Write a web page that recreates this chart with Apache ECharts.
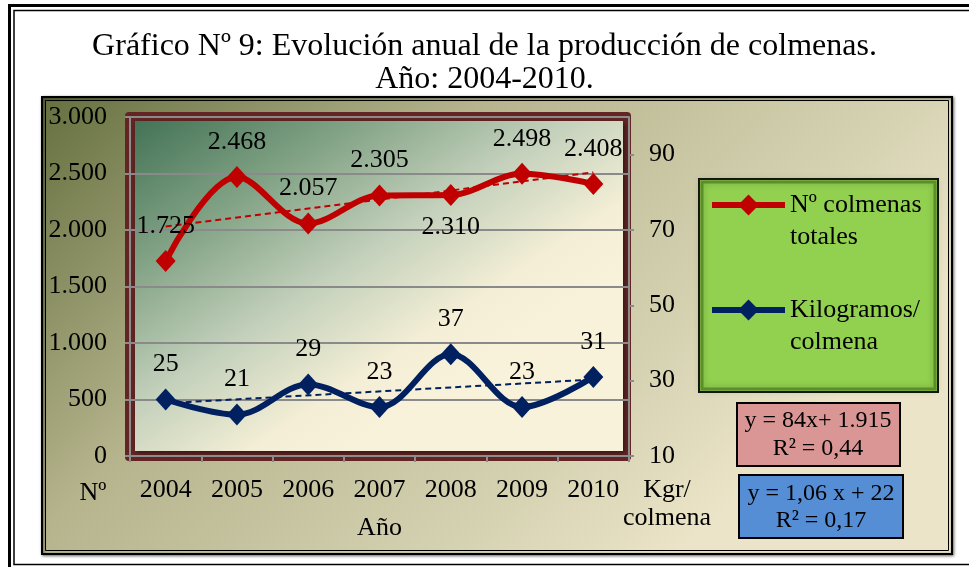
<!DOCTYPE html>
<html>
<head>
<meta charset="utf-8">
<script src="https://cdn.jsdelivr.net/npm/echarts@6/dist/echarts.min.js"></script>
<style>
  html, body { margin: 0; padding: 0; background: #fff; }
  #chart { width: 969px; height: 567px; }
</style>
</head>
<body>
<div id="chart"></div>
<script>
const years = ['2004', '2005', '2006', '2007', '2008', '2009', '2010']
const colmenas = [1725, 2468, 2057, 2305, 2310, 2498, 2408]
const kgColmena = [25, 21, 29, 23, 37, 23, 31]
// trend lines (start and end only)
const colmenasTrend = [2030, null, null, null, null, null, 2510]
const kgTrend = [24, null, null, null, null, null, 30.3]
const leftTicks = { min: 0, max: 3000, interval: 500 }
const rightTicks = { min: 10, max: 100, interval: 20 }

const FONT = 'Liberation Serif'
const RED = '#c00000'
const BLUE = '#002060'

const fmt = v => String(v).replace(/\B(?=(\d{3})+(?!\d))/g, '.')

const chart = echarts.init(document.getElementById('chart'))

const labelStyle = {
  show: true,
  position: 'top',
  distance: 11,
  color: '#000',
  fontFamily: FONT,
  fontSize: 26
}

const titleText = { fontFamily: FONT, fontSize: 32, fontWeight: 'normal', color: '#000' }

// leading blank line keeps the legend icon level with the first text line
const legendNames = {
  'Nº colmenas totales': ' \nNº colmenas\ntotales',
  'Kilogramos/ colmena': ' \nKilogramos/\ncolmena'
}

const option = {
  backgroundColor: '#fff',
  animation: false,
  title: [
    { text: 'Gráfico Nº 9: Evolución anual de la producción de colmenas.', left: 'center', top: 31, padding: 0, textStyle: titleText },
    { text: 'Año: 2004-2010.', left: 'center', top: 64, padding: 0, textStyle: titleText }
  ],
  legend: {
    data: ['Nº colmenas totales', 'Kilogramos/ colmena'],
    orient: 'vertical',
    left: 709,
    top: 157,
    padding: 0,
    itemGap: 9,
    itemWidth: 73,
    itemHeight: 26,
    lineStyle: { width: 6 },
    formatter: name => legendNames[name],
    textStyle: { fontFamily: FONT, fontSize: 26, color: '#000', lineHeight: 32 }
  },
  grid: { left: 130, right: 340, top: 117, bottom: 111 },
  xAxis: {
    type: 'category',
    data: years,
    boundaryGap: true,
    name: 'Año',
    nameLocation: 'middle',
    nameGap: 59,
    nameMoveOverlap: false,
    nameTextStyle: { fontFamily: FONT, fontSize: 26, color: '#000' },
    axisLine: { lineStyle: { color: '#8c8c8c', width: 2 } },
    axisTick: { show: true, length: 6, lineStyle: { color: '#8c8c8c', width: 2 } },
    axisLabel: { fontFamily: FONT, fontSize: 26, color: '#000', margin: 21 }
  },
  yAxis: [
    {
      type: 'value',
      min: leftTicks.min,
      max: leftTicks.max,
      interval: leftTicks.interval,
      name: 'Nº',
      nameLocation: 'start',
      nameGap: 24,
      nameMoveOverlap: false,
      nameTextStyle: { fontFamily: FONT, fontSize: 26, color: '#000', padding: [0, 74, 0, 0] },
      axisLine: { show: true, lineStyle: { color: '#8c8c8c', width: 2 } },
      axisTick: { show: true, length: 5, lineStyle: { color: '#8c8c8c', width: 2 } },
      axisLabel: { fontFamily: FONT, fontSize: 26, color: '#000', margin: 23, formatter: fmt },
      splitLine: { show: true, lineStyle: { color: '#8a8a8a', width: 2 } }
    },
    {
      type: 'value',
      position: 'right',
      min: rightTicks.min,
      max: rightTicks.max,
      interval: rightTicks.interval,
      name: 'Kgr/\ncolmena',
      nameLocation: 'start',
      nameGap: 20,
      nameMoveOverlap: false,
      nameTextStyle: { fontFamily: FONT, fontSize: 26, color: '#000', lineHeight: 28, padding: [0, 0, 0, 76] },
      axisLine: { show: true, lineStyle: { color: '#8c8c8c', width: 2 } },
      axisTick: { show: true, length: 5, lineStyle: { color: '#8c8c8c', width: 2 } },
      axisLabel: { fontFamily: FONT, fontSize: 26, color: '#000', margin: 20, showMaxLabel: false },
      splitLine: { show: false }
    }
  ],
  series: [
    {
      name: 'Nº colmenas totales',
      type: 'line',
      yAxisIndex: 0,
      data: colmenas.map((v, i) => i === 4
        ? { value: v, label: { position: 'bottom', distance: 8 } }
        : v),
      smooth: 0.35,
      symbol: 'diamond',
      symbolSize: [20, 22],
      itemStyle: { color: RED },
      lineStyle: { color: RED, width: 6 },
      label: { ...labelStyle, formatter: p => fmt(p.value) },
      z: 4
    },
    {
      name: 'Kilogramos/ colmena',
      type: 'line',
      yAxisIndex: 1,
      data: kgColmena,
      smooth: 0.35,
      symbol: 'diamond',
      symbolSize: [20, 22],
      itemStyle: { color: BLUE },
      lineStyle: { color: BLUE, width: 6 },
      label: { ...labelStyle },
      z: 4
    },
    {
      name: 'trend colmenas',
      type: 'line',
      yAxisIndex: 0,
      data: colmenasTrend,
      connectNulls: true,
      symbol: 'none',
      silent: true,
      lineStyle: { color: RED, width: 2, type: [6, 4] },
      z: 3
    },
    {
      name: 'trend kg',
      type: 'line',
      yAxisIndex: 1,
      data: kgTrend,
      connectNulls: true,
      symbol: 'none',
      silent: true,
      lineStyle: { color: BLUE, width: 2, type: [6, 4] },
      z: 3
    }
  ],
  graphic: [
    // outer page frame
    { type: 'rect', z: -20, shape: { x: 9.5, y: 5.5, width: 980, height: 570 }, style: { fill: null, stroke: '#000', lineWidth: 3 } },
    { type: 'rect', z: -20, shape: { x: 14, y: 10.5, width: 980, height: 554 }, style: { fill: null, stroke: '#000', lineWidth: 1.5 } },
    // chart area
    {
      type: 'rect', z: -19,
      shape: { x: 42, y: 97, width: 910, height: 457 },
      style: {
        fill: new echarts.graphic.LinearGradient(0, 0, 0.6, 1.2, [
          { offset: 0, color: '#646f3e' },
          { offset: 0.4, color: '#b6b48d' },
          { offset: 0.8, color: '#d6d3b3' },
          { offset: 1, color: '#ece4c8' }
        ]),
        stroke: '#000', lineWidth: 2,
        shadowColor: 'rgba(0,0,0,0.5)', shadowBlur: 3, shadowOffsetX: 1, shadowOffsetY: 1
      }
    },
    { type: 'rect', z: -18, shape: { x: 45.5, y: 100.5, width: 903, height: 450 }, style: { fill: null, stroke: '#000', lineWidth: 1 } },
    // plot wall frame
    { type: 'rect', z: -17, shape: { x: 125, y: 112, width: 506, height: 349, r: 4 }, style: { fill: '#632523' } },
    {
      type: 'rect', z: -16,
      shape: { x: 135, y: 121, width: 488, height: 330 },
      style: {
        fill: new echarts.graphic.LinearGradient(0, 0, 0.45, 1, [
          { offset: 0, color: '#447355' },
          { offset: 0.3, color: '#80a184' },
          { offset: 0.6, color: '#c3d0bb' },
          { offset: 0.85, color: '#f3eed5' },
          { offset: 1, color: '#f8f2da' }
        ]),
        shadowColor: 'rgba(0,0,0,0.45)', shadowBlur: 5, shadowOffsetX: 2, shadowOffsetY: 2
      }
    },
    // legend box
    {
      type: 'rect', z: -15,
      shape: { x: 699, y: 179, width: 239, height: 213 },
      style: { fill: '#92d050', stroke: '#111', lineWidth: 2 }
    },
    {
      type: 'rect', z: -14,
      shape: { x: 702, y: 182, width: 233, height: 207 },
      style: { fill: null, stroke: 'rgba(60,100,20,0.55)', lineWidth: 3, shadowColor: 'rgba(60,100,20,0.7)', shadowBlur: 6 }
    },
    // equation boxes
    { type: 'rect', shape: { x: 737, y: 403, width: 163, height: 63 }, style: { fill: '#da9694', stroke: '#000', lineWidth: 2 } },
    { type: 'text', x: 818, y: 421, style: { text: 'y = 84x+ 1.915', fontFamily: FONT, fontSize: 24, fill: '#000', align: 'center', verticalAlign: 'middle' } },
    { type: 'text', x: 818, y: 449, style: { text: 'R² = 0,44', fontFamily: FONT, fontSize: 24, fill: '#000', align: 'center', verticalAlign: 'middle' } },
    { type: 'rect', shape: { x: 739, y: 475, width: 164, height: 63 }, style: { fill: '#558ed5', stroke: '#000', lineWidth: 2 } },
    { type: 'text', x: 821, y: 494, style: { text: 'y = 1,06 x + 22', fontFamily: FONT, fontSize: 24, fill: '#000', align: 'center', verticalAlign: 'middle' } },
    { type: 'text', x: 821, y: 521, style: { text: 'R² = 0,17', fontFamily: FONT, fontSize: 24, fill: '#000', align: 'center', verticalAlign: 'middle' } }
  ]
}

chart.setOption(option)
</script>
</body>
</html>
